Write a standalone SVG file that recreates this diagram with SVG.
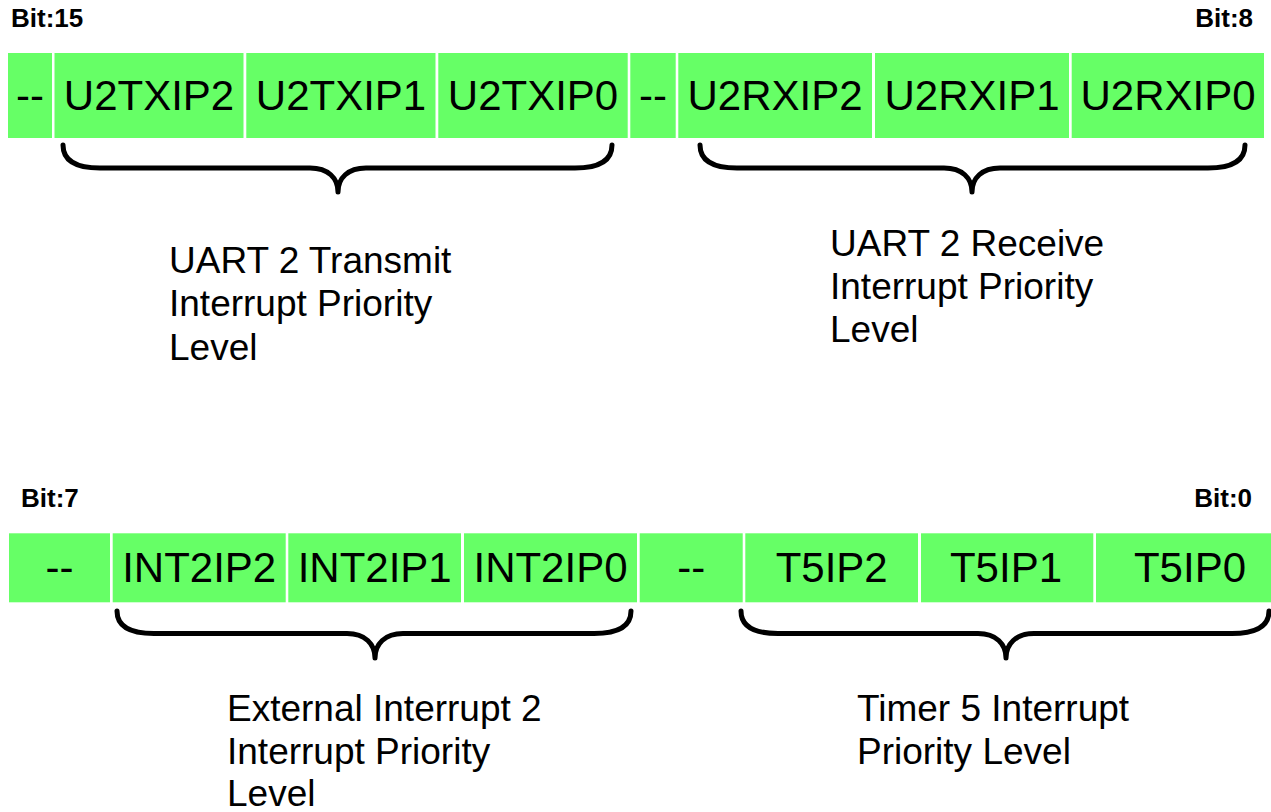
<svg xmlns="http://www.w3.org/2000/svg" width="1271" height="812" viewBox="0 0 1271 812">
  <style>
    .cell { fill: #66ff66; }
    .bitname { font-family: "Liberation Sans", Arial, sans-serif; font-size: 42px; fill: #000; text-anchor: middle; }
    .bitpos { font-family: "Liberation Sans", Arial, sans-serif; font-size: 26px; font-weight: bold; fill: #000; }
    .desc { font-family: "Liberation Sans", Arial, sans-serif; font-size: 37px; fill: #000; }
    .brace { fill: none; stroke: #000; stroke-width: 5; stroke-linecap: round; stroke-linejoin: round; }
  </style>

  <rect width="1271" height="812" fill="#ffffff"/>

  <!-- bit position labels -->
  <g id="bit-labels">
    <text class="bitpos" x="11" y="27">Bit:15</text>
    <text class="bitpos" x="1253" y="27" text-anchor="end">Bit:8</text>
    <text class="bitpos" x="21" y="507">Bit:7</text>
    <text class="bitpos" x="1252" y="507" text-anchor="end">Bit:0</text>
  </g>

  <!-- upper byte: bits 15..8 -->
  <g id="bit15"><rect class="cell" x="8" y="53" width="44" height="85"/><text class="bitname" x="30" y="110">--</text></g>
  <g id="bit14"><rect class="cell" x="54.5" y="53" width="189" height="85"/><text class="bitname" x="149" y="110">U2TXIP2</text></g>
  <g id="bit13"><rect class="cell" x="246.3" y="53" width="189.2" height="85"/><text class="bitname" x="341" y="110">U2TXIP1</text></g>
  <g id="bit12"><rect class="cell" x="438.3" y="53" width="189.4" height="85"/><text class="bitname" x="533" y="110">U2TXIP0</text></g>
  <g id="bit11"><rect class="cell" x="630.3" y="53" width="45.4" height="85"/><text class="bitname" x="653" y="110">--</text></g>
  <g id="bit10"><rect class="cell" x="678.3" y="53" width="193.7" height="85"/><text class="bitname" x="775" y="110">U2RXIP2</text></g>
  <g id="bit9"><rect class="cell" x="875" y="53" width="194" height="85"/><text class="bitname" x="972" y="110">U2RXIP1</text></g>
  <g id="bit8"><rect class="cell" x="1071.7" y="53" width="192.3" height="85"/><text class="bitname" x="1168" y="110">U2RXIP0</text></g>

  <!-- lower byte: bits 7..0 -->
  <g id="bit7"><rect class="cell" x="9" y="533.3" width="101" height="69"/><text class="bitname" x="59.5" y="582">--</text></g>
  <g id="bit6"><rect class="cell" x="112.7" y="533.3" width="173" height="69"/><text class="bitname" x="199.2" y="582">INT2IP2</text></g>
  <g id="bit5"><rect class="cell" x="288.3" y="533.3" width="172.7" height="69"/><text class="bitname" x="374.7" y="582">INT2IP1</text></g>
  <g id="bit4"><rect class="cell" x="464" y="533.3" width="173" height="69"/><text class="bitname" x="550.5" y="582">INT2IP0</text></g>
  <g id="bit3"><rect class="cell" x="639.7" y="533.3" width="103" height="69"/><text class="bitname" x="691.2" y="582">--</text></g>
  <g id="bit2"><rect class="cell" x="745.3" y="533.3" width="172.7" height="69"/><text class="bitname" x="831.7" y="582">T5IP2</text></g>
  <g id="bit1"><rect class="cell" x="921" y="533.3" width="172.3" height="69"/><text class="bitname" x="1006" y="582">T5IP1</text></g>
  <g id="bit0"><rect class="cell" x="1096" y="533.3" width="188" height="69"/><text class="bitname" x="1190" y="582">T5IP0</text></g>

  <!-- braces grouping the priority fields -->
  <g id="connectors">
    <path class="brace" d="M63,145 C63,160 75,168 100,168 L310,168 C328,168 338,178 338,192 C338,178 348,168 366,168 L575,168 C600,168 612,160 612,145"/>
    <path class="brace" d="M700,145 C700,160 712,168 737,168 L944,168 C962,168 972,178 972,192 C972,178 982,168 1000,168 L1208,168 C1233,168 1245,160 1245,145"/>
    <path class="brace" d="M117,611 C117,626 129,633.5 154,633.5 L347,633.5 C365,633.5 375,644 375,658 C375,644 385,633.5 403,633.5 L594,633.5 C619,633.5 631,626 631,611"/>
    <path class="brace" d="M741,611 C741,626 753,633.5 778,633.5 L978,633.5 C996,633.5 1006,644 1006,658 C1006,644 1016,633.5 1034,633.5 L1232,633.5 C1257,633.5 1269,626 1269,611"/>
  </g>

  <!-- field descriptions -->
  <g id="desc-u2tx">
    <text class="desc" x="169" y="273">UART 2 Transmit</text>
    <text class="desc" x="169" y="316">Interrupt Priority</text>
    <text class="desc" x="169" y="360">Level</text>
  </g>
  <g id="desc-u2rx">
    <text class="desc" x="830" y="256">UART 2 Receive</text>
    <text class="desc" x="830" y="299">Interrupt Priority</text>
    <text class="desc" x="830" y="342">Level</text>
  </g>
  <g id="desc-int2">
    <text class="desc" x="227" y="721">External Interrupt 2</text>
    <text class="desc" x="227" y="764">Interrupt Priority</text>
    <text class="desc" x="227" y="806">Level</text>
  </g>
  <g id="desc-t5">
    <text class="desc" x="857" y="721">Timer 5 Interrupt</text>
    <text class="desc" x="857" y="764">Priority Level</text>
  </g>
</svg>
